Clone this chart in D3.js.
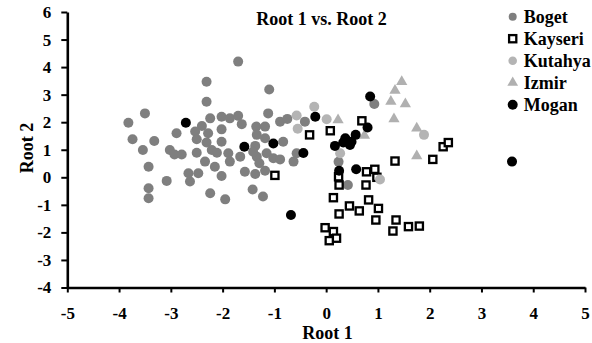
<!DOCTYPE html>
<html>
<head>
<meta charset="utf-8">
<script src="https://cdn.jsdelivr.net/npm/d3@7"></script>
<style>
    body { margin: 0; background: #fff; }
    text { font-family: "Liberation Serif", "Times New Roman", Times, "DejaVu Serif", serif; font-weight: bold; fill: #000; }
    .axis path, .axis line { stroke: #000; }
</style>
</head>
<body>
<div class="scatter-plot"></div>
<script>
// group names, in legend order
var groups = ["Boget", "Kayseri", "Kutahya", "Izmir", "Mogan"];

// [root1, root2] per group
var boget = [
    [-3.82, 1.98], [-3.50, 2.32], [-3.74, 1.38], [-3.54, 0.99], [-3.32, 1.32],
    [-3.43, 0.38], [-3.43, -0.40], [-3.43, -0.76], [-3.08, -0.13], [-2.89, 1.60],
    [-3.02, 0.99], [-2.93, 0.83], [-2.79, 0.83], [-2.66, 0.15], [-2.47, 0.15],
    [-2.63, -0.15], [-2.31, 3.47], [-2.31, 2.74], [-1.70, 4.20], [-1.10, 3.19],
    [-1.12, 2.32], [-2.24, 2.14], [-2.02, 2.20], [-1.86, 2.14], [-1.70, 2.23],
    [-1.63, 1.93], [-2.40, 1.86], [-2.53, 1.66], [-2.28, 1.60], [-2.02, 1.74],
    [-1.35, 1.84], [-1.18, 1.84], [-1.34, 1.54], [-0.89, 2.02], [-0.75, 2.12],
    [-2.50, 1.38], [-2.31, 1.26], [-2.02, 1.29], [-1.37, 1.14], [-1.18, 1.42],
    [-0.83, 1.29], [-2.50, 0.89], [-2.21, 0.99], [-2.11, 0.89], [-1.89, 0.87],
    [-1.66, 0.75], [-1.86, 0.57], [-2.34, 0.57], [-2.15, 0.38], [-1.34, 0.75],
    [-1.15, 0.87], [-1.02, 0.69], [-0.89, 0.65], [-1.29, 0.51], [-2.02, 0.05],
    [-1.57, 0.20], [-1.37, 0.12], [-1.18, 0.24], [-2.24, -0.58], [-1.95, -0.80],
    [-1.42, -0.44], [-1.22, -0.70], [-0.57, 0.87], [-0.63, 0.57], [-0.41, 2.02],
    [0.24, 0.56], [0.42, -0.28], [0.93, 2.66], [-1.41, 0.93]
];

var kayseri = [
    [0.69, 2.05], [0.08, 1.69], [-0.32, 1.54], [1.33, 0.59], [2.06, 0.65],
    [2.26, 1.11], [2.36, 1.26], [0.78, 0.20], [0.94, 0.29], [0.98, 0.00],
    [0.77, -0.28], [0.24, 0.02], [0.25, -0.28], [0.14, -0.74], [0.45, -1.04],
    [0.64, -1.22], [0.82, -0.82], [1.01, -1.13], [0.96, -1.55], [0.25, -1.33],
    [1.35, -1.55], [1.29, -1.95], [1.59, -1.79], [1.80, -1.77], [-0.02, -1.83],
    [0.14, -1.97], [0.20, -2.21], [0.06, -2.30], [-0.99, 0.07]
];

var kutahya = [
    [-0.57, 2.24], [-0.55, 1.76], [-0.23, 2.56], [0.01, 2.11], [0.27, 0.87],
    [1.04, -0.08], [1.89, 1.54]
];

var izmir = [
    [1.46, 3.47], [1.33, 3.15], [1.25, 2.75], [1.53, 2.66], [1.31, 2.12],
    [1.75, 1.78], [1.75, 0.77], [0.74, 1.52], [0.23, 2.08]
];

var mogan = [
    [-2.71, 1.98], [-1.58, 1.11], [-1.02, 1.23], [-0.68, -1.37], [-0.44, 0.88],
    [-0.21, 2.20], [0.85, 2.93], [0.80, 1.81], [0.57, 1.54], [0.37, 1.42],
    [0.49, 1.29], [0.33, 1.26], [0.17, 1.14], [0.46, 1.17], [0.25, 0.24],
    [0.58, 0.29], [3.59, 0.57]
];

var xTicks = [-5, -4, -3, -2, -1, 0, 1, 2, 3, 4, 5];
var yTicks = [-4, -3, -2, -1, 0, 1, 2, 3, 4, 5, 6];

var seriesData = [boget, kayseri, kutahya, izmir, mogan];

var W = 592, H = 343;
var FONT = "'Liberation Serif', 'Times New Roman', Times, 'DejaVu Serif', serif";

var svg = d3.select(".scatter-plot").append("svg")
    .attr("width", W)
    .attr("height", H);

svg.append("rect")
    .attr("width", W)
    .attr("height", H)
    .attr("fill", "#fff");

var x = d3.scaleLinear().domain([-5, 5]).range([67.3, 585]);
var y = d3.scaleLinear().domain([-4, 6]).range([287.5, 12]);

// marker look per group
var style = {
    Boget:   { shape: "circle", fill: "#7f7f7f", stroke: "none", r: 5, lr: 4 },
    Kayseri: { shape: "square", fill: "#fff", stroke: "#000", r: 3.6, lr: 3.6 },
    Kutahya: { shape: "circle", fill: "#b4b4b4", stroke: "none", r: 5, lr: 4.3 },
    Izmir:   { shape: "triangle", fill: "#b0b0b0", stroke: "none", r: 55, lr: 50 },
    Mogan:   { shape: "circle", fill: "#000", stroke: "none", r: 5, lr: 5 }
};

function drawMarker(sel, st, big) {
    var r = big ? st.r : st.lr;
    if (st.shape === "circle") {
        sel.append("circle").attr("r", r).attr("fill", st.fill);
    } else if (st.shape === "square") {
        sel.append("rect")
            .attr("x", -r).attr("y", -r)
            .attr("width", 2 * r).attr("height", 2 * r)
            .attr("fill", st.fill)
            .attr("stroke", st.stroke)
            .attr("stroke-width", 2.3);
    } else {
        sel.append("path")
            .attr("d", d3.symbol().type(d3.symbolTriangle).size(r)())
            .attr("fill", st.fill);
    }
}

// axes
svg.append("g")
    .attr("class", "x axis")
    .attr("transform", "translate(0," + y(-4) + ")")
    .call(d3.axisBottom(x)
        .tickValues(xTicks)
        .tickFormat(function(d) { return String(d); })
        .tickSizeInner(5)
        .tickSizeOuter(0)
        .tickPadding(14));

svg.append("g")
    .attr("class", "y axis")
    .attr("transform", "translate(" + x(-5) + ",0)")
    .call(d3.axisLeft(y)
        .tickValues(yTicks)
        .tickFormat(function(d) { return String(d); })
        .tickSizeInner(6)
        .tickSizeOuter(0)
        .tickPadding(10));

svg.selectAll(".axis").attr("font-family", null).attr("font-size", null);
svg.selectAll(".axis path").attr("stroke-width", 2.6);
svg.selectAll(".axis line").attr("stroke-width", 2);
svg.selectAll(".axis text")
    .style("font-size", "17px")
    .style("font-family", FONT)
    .style("font-weight", "bold")
    .attr("fill", "#000");

// points
groups.forEach(function(g, i) {
    var st = style[g];
    svg.append("g").attr("class", "series")
        .selectAll(".dot")
        .data(seriesData[i])
        .enter().append("g")
        .attr("class", "dot")
        .attr("transform", function(d) {
            return "translate(" + x(d[0]) + "," + y(d[1]) + ")";
        })
        .each(function() { drawMarker(d3.select(this), st, true); });
});

// titles
svg.append("text")
    .attr("x", 321.5)
    .attr("y", 25)
    .attr("text-anchor", "middle")
    .style("font-size", "18px")
    .style("font-family", FONT)
    .text("Root 1 vs. Root 2");

svg.append("text")
    .attr("x", 327.5)
    .attr("y", 339)
    .attr("text-anchor", "middle")
    .style("font-size", "18px")
    .style("font-family", FONT)
    .text("Root 1");

svg.append("text")
    .attr("transform", "translate(33,148) rotate(-90)")
    .attr("text-anchor", "middle")
    .style("font-size", "18px")
    .style("font-family", FONT)
    .text("Root 2");

// legend
var legend = svg.selectAll(".legend")
    .data(groups)
    .enter().append("g")
    .attr("class", "legend")
    .attr("transform", function(d, i) {
        return "translate(512.7," + (16.7 + i * 22) + ")";
    });

legend.each(function(d) { drawMarker(d3.select(this), style[d], false); });

legend.append("text")
    .attr("x", 11)
    .attr("dy", "0.35em")
    .style("font-size", "18px")
    .style("font-family", FONT)
    .text(function(d) { return d; });
</script>
</body>
</html>
